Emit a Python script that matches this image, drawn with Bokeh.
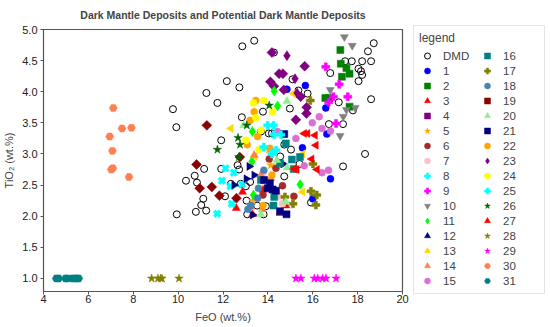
from bokeh.plotting import figure
from bokeh.models import Legend, LegendItem, Range1d, FixedTicker, PrintfTickFormatter
from bokeh.embed import file_html
from bokeh.resources import INLINE
import math

TITLE = "Dark Mantle Deposits and Potential Dark Mantle Deposits"
X_LABEL = "FeO (wt.%)"
Y_LABEL = "TiO\u2082 (wt.%)"
X_TICKS = [4, 6, 8, 10, 12, 14, 16, 18, 20]
Y_TICKS = [1.0, 1.5, 2.0, 2.5, 3.0, 3.5, 4.0, 4.5, 5.0]

DMD_FEO = [12.86, 13.39, 12.17, 12.73, 11.26, 11.75, 9.77, 12.84, 9.92, 11.92, 11.16, 11.92, 14.27, 13.78, 14.98,
           15.10, 15.36, 15.77, 14.04, 14.18, 14.73, 14.55, 12.65, 12.72, 17.35, 18.33, 18.60, 18.72, 18.46, 18.20,
           18.60, 18.04, 18.15, 18.20, 18.04, 17.44, 17.74, 16.78, 17.16, 17.79, 17.35, 16.72, 10.74, 10.35, 10.84,
           12.35, 13.02, 13.21, 12.09, 11.12, 11.03, 11.25, 10.79, 9.94, 13.05, 13.08, 13.52, 13.81, 13.91, 14.73,
           15.41, 15.03, 15.92, 13.69, 12.79]
DMD_TIO2 = [4.73, 4.82, 4.17, 4.07, 3.98, 3.82, 3.72, 3.59, 3.43, 3.22, 2.76, 2.76, 4.63, 3.68, 3.73,
            4.20, 4.02, 3.97, 3.33, 3.33, 3.15, 2.96, 2.82, 2.75, 2.80, 3.00, 3.88, 4.78, 4.65, 4.49,
            4.49, 4.37, 4.33, 4.27, 4.17, 4.49, 4.49, 4.30, 3.83, 3.70, 3.48, 3.48, 2.65, 2.57, 2.54,
            2.52, 2.48, 2.55, 2.32, 2.28, 2.18, 2.09, 2.07, 2.03, 2.25, 2.03, 2.17, 2.03, 2.16, 2.64,
            2.84, 3.07, 2.22, 3.36, 2.52]

S1_FEO = [15.67, 14.85, 16.58, 16.63, 15.54, 16.79, 16.00]
S1_TIO2 = [4.10, 4.04, 3.74, 3.32, 3.10, 2.60, 2.28]
S2_FEO = [17.23, 17.25, 17.50, 17.64, 17.30, 16.56, 16.72, 17.64]
S2_TIO2 = [4.67, 4.45, 4.38, 4.29, 4.24, 3.90, 3.90, 3.76]
S3_FEO = [12.87, 12.59, 13.32, 13.78, 14.80, 14.54]
S3_TIO2 = [2.39, 2.13, 2.03, 2.42, 2.17, 2.05]
S4_FEO = [14.18, 15.64, 14.50, 14.67, 14.11, 14.27, 14.71, 15.46, 15.73, 15.72, 15.25]
S4_TIO2 = [4.63, 4.41, 4.29, 4.29, 4.16, 4.09, 4.03, 3.92, 3.75, 3.65, 3.55]
S5_FEO = [14.05, 14.13, 13.78, 13.33]
S5_TIO2 = [3.07, 2.82, 2.62, 2.25]
S6_FEO = [14.65, 15.16, 14.36, 14.06, 13.78]
S6_TIO2 = [2.49, 2.32, 2.77, 2.92, 2.34]
S7_FEO = [14.46, 14.65, 14.13, 13.78]
S7_TIO2 = [2.32, 2.20, 2.42, 2.69]
S8_FEO = [12.11, 11.95, 12.48, 12.33, 12.85, 12.39, 11.74]
S8_TIO2 = [2.77, 2.57, 2.70, 2.48, 2.51, 2.20, 2.04]
S9_FEO = [16.58, 17.18, 17.56, 16.92, 16.71, 17.04]
S9_TIO2 = [4.40, 4.12, 3.92, 3.92, 3.83, 3.49]
S10_FEO = [17.41, 17.76, 16.78, 17.50, 17.89, 17.36, 17.22]
S10_TIO2 = [4.88, 4.74, 4.03, 3.71, 3.74, 3.60, 3.29]
S11_FEO = [14.28, 14.43, 13.31, 13.29, 13.36, 15.44]
S11_TIO2 = [4.01, 3.77, 3.36, 2.88, 2.34, 2.51]
S12_FEO = [13.17, 13.04, 12.50, 13.39, 13.32, 14.68]
S12_TIO2 = [2.80, 2.60, 2.50, 2.66, 2.02, 2.84]
S13_FEO = [15.14, 15.55, 15.55, 13.42, 12.35]
S13_TIO2 = [3.97, 3.00, 2.39, 2.96, 3.41]
S14_FEO = [13.39, 13.24, 13.76, 13.69, 14.13]
S14_TIO2 = [2.98, 2.15, 2.11, 2.66, 2.61]
S15_FEO = [15.98, 16.29, 16.41, 16.79, 15.25, 15.62, 16.41, 16.70, 14.43]
S15_TIO2 = [3.50, 3.60, 3.41, 3.37, 3.25, 2.81, 2.70, 2.74, 3.36]
S16_FEO = [14.80, 15.07, 15.43, 15.15, 14.28, 14.25, 14.54, 13.69]
S16_TIO2 = [3.17, 2.91, 2.95, 2.76, 2.31, 2.17, 2.85, 2.58]
S17_FEO = [15.89, 16.01, 15.92, 16.18, 16.14, 14.76, 15.12]
S17_TIO2 = [3.86, 2.84, 2.40, 2.34, 2.18, 2.31, 2.20]
S18_FEO = [13.58, 13.54, 13.24, 13.82, 13.11]
S18_TIO2 = [2.45, 2.29, 2.17, 2.74, 2.11]
S19_FEO = [11.28, 10.82, 10.96, 11.50, 11.84, 12.60, 12.75]
S19_TIO2 = [3.46, 2.83, 2.45, 2.47, 2.33, 2.29, 2.95]
S20_FEO = [14.85, 12.92, 14.86, 14.80, 14.40, 13.69]
S20_TIO2 = [3.85, 3.46, 2.78, 2.23, 2.90, 2.03]
S21_FEO = [14.73, 13.83, 13.99, 14.21, 14.36, 14.54, 14.83, 14.09]
S21_TIO2 = [3.32, 2.58, 2.45, 2.43, 2.41, 2.08, 2.03, 2.53]
S22_FEO = [13.46, 13.39, 13.21, 13.54, 13.08, 14.09, 14.18, 13.78]
S22_TIO2 = [3.86, 3.68, 3.54, 3.28, 3.15, 3.09, 2.66, 2.17]
S23_FEO = [14.85, 15.21, 15.30]
S23_TIO2 = [4.58, 4.21, 3.98]
S24_FEO = [13.36, 13.82, 14.21, 13.46, 13.61, 13.69, 13.02]
S24_TIO2 = [3.82, 3.86, 3.68, 3.58, 3.07, 3.38, 3.22]
S25_FEO = [13.99, 14.25, 14.28, 14.58, 14.36, 14.18, 13.82]
S25_TIO2 = [3.46, 3.46, 3.31, 3.31, 3.06, 3.00, 3.11]
S26_FEO = [14.06, 13.06, 12.67, 12.76, 11.75, 12.71]
S26_TIO2 = [3.78, 3.46, 3.26, 3.15, 3.07, 2.95]
S27_FEO = [15.62, 15.77, 16.10, 16.14, 15.95, 16.19, 15.17, 15.29]
S27_TIO2 = [3.33, 3.33, 3.30, 3.14, 2.92, 2.75, 2.76, 2.75]
S28_FEO = [8.82, 9.10, 9.22, 9.28, 10.04]
S28_TIO2 = [1.0, 1.0, 1.0, 1.0, 1.0]
S29_FEO = [15.25, 15.47, 16.07, 16.22, 16.44, 16.59, 17.04]
S29_TIO2 = [1.0, 1.0, 1.0, 1.0, 1.0, 1.0, 1.0]
S30_FEO = [7.11, 7.50, 7.92, 6.95, 7.07, 7.02, 7.09, 7.81]
S30_TIO2 = [3.74, 3.41, 3.42, 3.28, 3.05, 2.75, 2.77, 2.63]
S31_FEO = [4.57, 4.68, 4.98, 5.06, 5.28, 5.40, 5.50, 5.57]
S31_TIO2 = [1.0, 1.0, 1.0, 1.0, 1.0, 1.0, 1.0, 1.0]

SERIES = [
    ("1", S1_FEO, S1_TIO2), ("2", S2_FEO, S2_TIO2), ("3", S3_FEO, S3_TIO2), ("4", S4_FEO, S4_TIO2),
    ("5", S5_FEO, S5_TIO2), ("6", S6_FEO, S6_TIO2), ("7", S7_FEO, S7_TIO2), ("8", S8_FEO, S8_TIO2),
    ("9", S9_FEO, S9_TIO2), ("10", S10_FEO, S10_TIO2), ("11", S11_FEO, S11_TIO2), ("12", S12_FEO, S12_TIO2),
    ("13", S13_FEO, S13_TIO2), ("14", S14_FEO, S14_TIO2), ("15", S15_FEO, S15_TIO2), ("16", S16_FEO, S16_TIO2),
    ("17", S17_FEO, S17_TIO2), ("18", S18_FEO, S18_TIO2), ("19", S19_FEO, S19_TIO2), ("20", S20_FEO, S20_TIO2),
    ("21", S21_FEO, S21_TIO2), ("22", S22_FEO, S22_TIO2), ("23", S23_FEO, S23_TIO2), ("24", S24_FEO, S24_TIO2),
    ("25", S25_FEO, S25_TIO2), ("26", S26_FEO, S26_TIO2), ("27", S27_FEO, S27_TIO2), ("28", S28_FEO, S28_TIO2),
    ("29", S29_FEO, S29_TIO2), ("30", S30_FEO, S30_TIO2), ("31", S31_FEO, S31_TIO2),
]

# style per series: marker, color, size, angle
Q = math.pi / 4
H = math.pi / 2
STYLES = {
    "1": ("circle", "blue", 7, 0), "2": ("square", "green", 7, 0), "3": ("triangle", "red", 8, 0),
    "4": ("square", "purple", 7, Q), "5": ("star", "orange", 9, 0), "6": ("circle", "brown", 7, 0),
    "7": ("circle", "pink", 7, 0), "8": ("plus", "cyan", 8, Q), "9": ("plus", "magenta", 8, 0),
    "10": ("inverted_triangle", "gray", 8, 0), "11": ("diamond", "lime", 10, 0), "12": ("triangle", "navy", 8, -H),
    "13": ("triangle", "gold", 8, H), "14": ("triangle", "coral", 8, 0), "15": ("circle", "orchid", 7, 0),
    "16": ("square", "teal", 7, 0), "17": ("plus", "olive", 8, 0), "18": ("circle", "steelblue", 7, 0),
    "19": ("square", "darkred", 7, Q), "20": ("triangle", "lightgreen", 8, 0), "21": ("square", "navy", 7, 0),
    "22": ("circle", "orange", 7, 0), "23": ("diamond", "purple", 10, 0), "24": ("circle", "yellow", 7, 0),
    "25": ("plus", "cyan", 8, 0), "26": ("star", "darkgreen", 9, 0), "27": ("triangle", "red", 8, H),
    "28": ("star", "olive", 9, 0), "29": ("star", "magenta", 9, 0), "30": ("hex", "coral", 8, 0),
    "31": ("hex", "teal", 8, 0),
}

FONT = "Liberation Sans"

p = figure(frame_width=359, frame_height=262, output_backend="svg", toolbar_location=None,
           x_range=Range1d(4, 20), y_range=Range1d(0.79, 5.0),
           min_border_left=35, min_border_top=29, min_border_bottom=4, min_border_right=2,
           title=TITLE, background_fill_color="white", border_fill_color="white")
p.title.align = "center"
p.title.vertical_align = "middle"
p.title.text_font = FONT
p.title.text_font_size = "10.5px"
p.title.text_font_style = "bold"
p.title.standoff = 15
p.grid.visible = False
p.outline_line_color = "#555555"
p.outline_line_width = 1.2

for ax in (p.xaxis, p.yaxis):
    ax.axis_line_color = "#555555"
    ax.major_tick_line_color = "#555555"
    ax.major_tick_out = 3
    ax.major_tick_in = 0
    ax.minor_tick_line_color = None
    ax.major_label_text_font = FONT
    ax.major_label_text_font_size = "11px"
    ax.major_label_text_color = "#222222"
    ax.axis_label_text_font = FONT
    ax.axis_label_text_font_size = "11px"
    ax.axis_label_text_font_style = "normal"
    ax.major_label_standoff = 3
p.xaxis.major_label_standoff = 0
p.xaxis.axis_label = X_LABEL
p.yaxis.axis_label = Y_LABEL
p.xaxis.ticker = FixedTicker(ticks=X_TICKS)
p.yaxis.ticker = FixedTicker(ticks=Y_TICKS)
p.yaxis.formatter = PrintfTickFormatter(format="%.1f")
p.xaxis.axis_label_standoff = 5
p.yaxis.axis_label_standoff = 4

items = []
r = p.scatter(DMD_FEO, DMD_TIO2, marker="circle", size=7, fill_color=None, line_color="black", line_width=1)
items.append(LegendItem(label="DMD", renderers=[r]))
for name, xs, ys in SERIES:
    mk, col, sz, ang = STYLES[name]
    r = p.scatter(xs, ys, marker=mk, size=sz, angle=ang, fill_color=col, line_color=col, line_width=0.5)
    items.append(LegendItem(label=name, renderers=[r]))

legend = Legend(items=items, ncols=2, title="legend", location=(11, -3),
                label_text_font=FONT, label_text_font_size="11.5px",
                title_text_font=FONT, title_text_font_size="12px", title_text_font_style="normal",
                glyph_height=15, glyph_width=16, label_height=15, label_width=36, spacing=0,
                padding=5, margin=10, label_standoff=8, title_standoff=3,
                border_line_color="#cccccc", border_line_width=1, background_fill_color="white")
p.add_layout(legend, "right")

open("out.html", "w").write(file_html(p, INLINE))
